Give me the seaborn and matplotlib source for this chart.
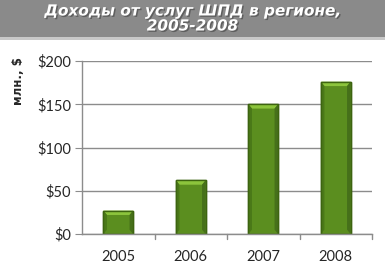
import matplotlib
matplotlib.use("Agg")
import matplotlib.pyplot as plt
import seaborn as sns
import pandas as pd
from matplotlib.patches import Rectangle, Polygon
import matplotlib.patheffects as pe

years = ["2005", "2006", "2007", "2008"]
revenue = [27, 62, 150, 176]
yticks = [0, 50, 100, 150, 200]
ytick_labels = ["$0", "$50", "$100", "$150", "$200"]
title = "Доходы от услуг ШПД в регионе,\n2005-2008"
ylabel = "млн., $"

df = pd.DataFrame({"year": years, "revenue": revenue})

sns.set_style("white")
fig = plt.figure(figsize=(3.85, 2.7), dpi=100)
fig.patch.set_facecolor("white")

# title band
fig.add_artist(Rectangle((0, 1 - 37/270), 1, 37/270, transform=fig.transFigure,
                         facecolor="#8a8a8a", edgecolor="none"))
fig.add_artist(Rectangle((0, 1 - 40/270), 1, 3/270, transform=fig.transFigure,
                         facecolor="#c8c8c8", edgecolor="none"))
fig.text(0.5, 1 - 18.5/270, title, ha="center", va="center", color="white",
         fontsize=11, fontweight="bold", fontstyle="italic", family="DejaVu Sans",
         linespacing=1.0,
         path_effects=[pe.withSimplePatchShadow(offset=(1, -1), shadow_rgbFace="#555555", alpha=0.8)])

ax = fig.add_axes([82/385, 1 - 234/270, (372 - 82)/385, (234 - 61)/270])
sns.barplot(data=df, x="year", y="revenue", ax=ax, color="#5b8e1f", width=0.41,
            edgecolor="#3d6410", linewidth=1.0, saturation=1)

ax.set_ylim(0, 200)
ax.set_xlim(-0.5, 3.5)

# bevel decoration derived from the bar patches
for p in list(ax.patches):
    x0, y0 = p.get_x(), p.get_y()
    w, h = p.get_width(), p.get_height()
    bw = w * 0.12
    bh = 200 * 0.025
    ax.add_patch(Polygon([(x0, y0 + h), (x0 + w, y0 + h), (x0 + w - bw, y0 + h - bh),
                          (x0 + bw, y0 + h - bh)], closed=True, facecolor="#8cc43c",
                         edgecolor="none", zorder=p.get_zorder() + 0.1))
    ax.add_patch(Polygon([(x0, y0), (x0 + bw, y0 + bh), (x0 + bw, y0 + h - bh), (x0, y0 + h)],
                         closed=True, facecolor="#4a7818", edgecolor="none",
                         zorder=p.get_zorder() + 0.1))
    ax.add_patch(Polygon([(x0 + w, y0), (x0 + w - bw, y0 + bh), (x0 + w - bw, y0 + h - bh),
                          (x0 + w, y0 + h)], closed=True, facecolor="#46701a",
                         edgecolor="none", zorder=p.get_zorder() + 0.1))
    ax.add_patch(Rectangle((x0, y0), w, h, facecolor="none", edgecolor="#3d6410",
                           linewidth=1.0, zorder=p.get_zorder() + 0.2))

ax.set_yticks(yticks)
ax.set_yticklabels(ytick_labels)
ax.yaxis.grid(True, color="#8c8c8c", linewidth=1.0)
ax.set_axisbelow(True)
for s in ["top", "right"]:
    ax.spines[s].set_visible(False)
for s in ["left", "bottom"]:
    ax.spines[s].set_color("#8c8c8c")
    ax.spines[s].set_linewidth(1.0)
ax.set_xlabel("")
ax.set_ylabel("")
ax.tick_params(axis="y", which="both", left=True, length=5, color="#8c8c8c",
               labelsize=10.5, pad=3)
ax.tick_params(axis="x", bottom=False, labelsize=10.5, pad=8)
for lab in ax.get_xticklabels() + ax.get_yticklabels():
    lab.set_family("Lato")
# x ticks between categories
for xb in [0.5, 1.5, 2.5, 3.5]:
    ax.plot([xb, xb], [0, -0.03], transform=ax.get_xaxis_transform(), color="#8c8c8c",
            lw=1.0, clip_on=False)

fig.text(18/385, 1 - 81/270, ylabel, rotation=90, ha="center", va="center",
         fontsize=8.5, fontweight="bold", family="DejaVu Sans")

fig.savefig("out.png", dpi=100)
